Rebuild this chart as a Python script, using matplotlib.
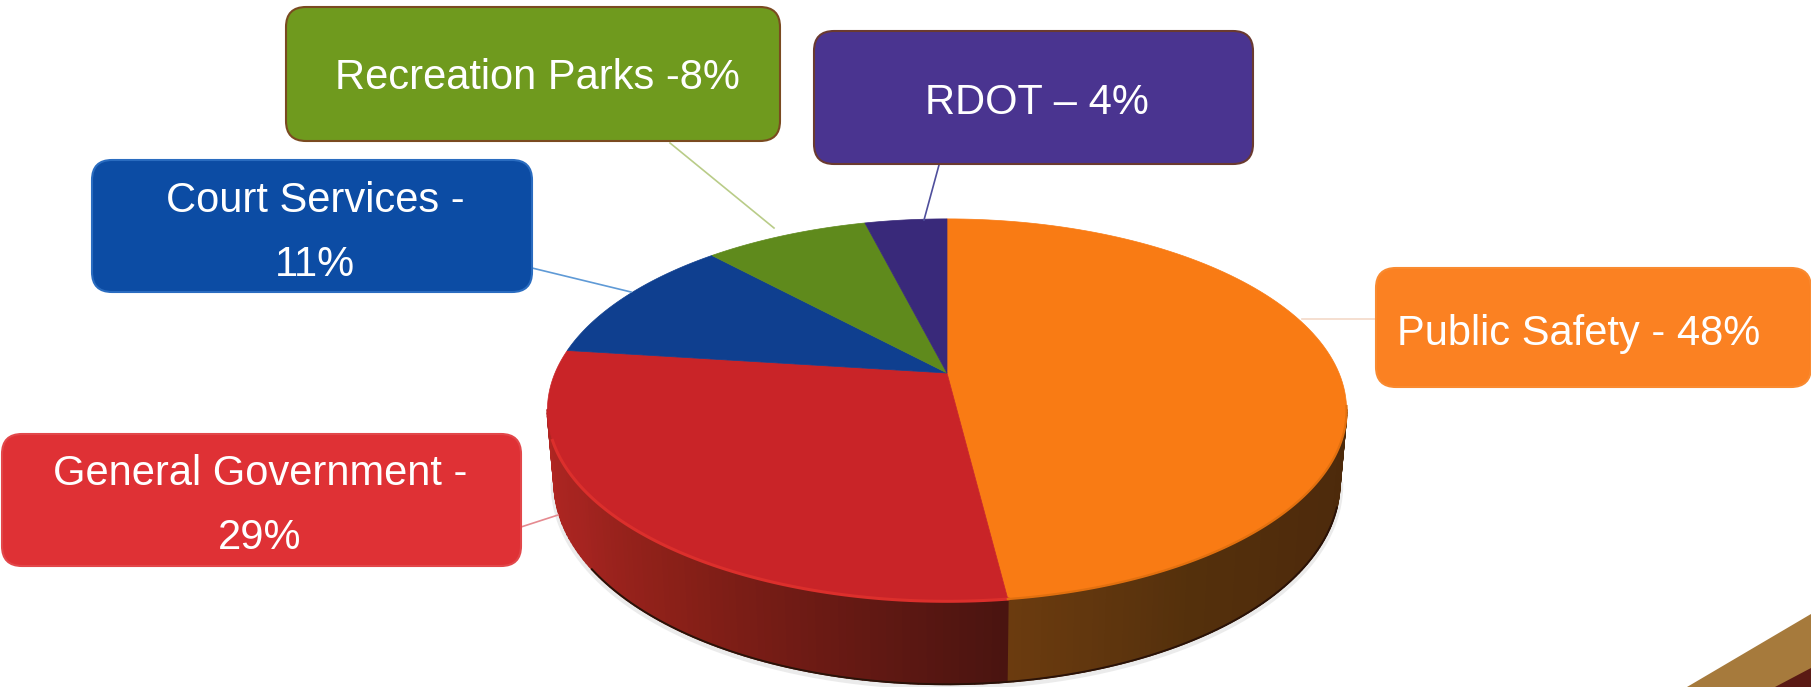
"""
plot.py

3D-look pie of budget share by department, with rounded callout boxes.
"""

import numpy as np
import matplotlib
matplotlib.use("Agg")
import matplotlib.pyplot as plt
from matplotlib.collections import PolyCollection
from matplotlib.colors import to_rgb
from matplotlib.patches import FancyBboxPatch, Polygon

plt.rcParams["font.family"] = ["Liberation Sans", "DejaVu Sans"]

# clockwise from 12 o'clock
departments = ["Public Safety", "General Government", "Court Services",
               "Recreation Parks", "RDOT"]
shares = [48, 29, 11, 8, 4]
labels = ["Public Safety - 48%", "General Government -\n29%", "Court Services -\n11%",
          "Recreation Parks -8%", "RDOT \u2013 4%"]
top_colors = ["#f97b14", "#c92428", "#0f3f8f", "#5f8a1c", "#39297a"]
box_colors = ["#fb8122", "#df3135", "#0c4ca4", "#6f9a1e", "#4a3490"]
box_edges = ["#f98a30", "#e2474a", "#2a6cc0", "#7a4a20", "#6a3a30"]
line_colors = ["#f3d9c8", "#e58a90", "#5f9ad6", "#b9cc88", "#4f4f9c"]

# left, top, right, bottom in pixels
boxes = [(1376, 268, 1811, 387), (2, 434, 521, 566), (92, 160, 532, 292),
         (286, 7, 780, 141), (814, 31, 1253, 164)]
# box end and pie end of each leader line
leaders = [((1376, 319), (1302, 319)), ((521, 527), (558, 515)), ((532, 268), (631, 292)),
           ((670, 143), (774, 228)), ((939, 165), (924, 220))]
text_pos = [(1579, 334), (260, 506), (315, 233), (537, 78), (1037, 103)]

APEX_X, APEX_Y = 947, 373
RADIUS, HEIGHT, TILT = 392, 184, 0.194


def top_point(theta):
    """Perspective view of a point on the rim, theta clockwise from the back."""
    u, v = np.sin(theta), np.cos(theta)
    w = 1 + TILT * v
    return APEX_X + RADIUS * u / w, APEX_Y - HEIGHT * v / w


def bottom_point(theta):
    x, y = top_point(theta)
    return APEX_X + 0.983 * (x - APEX_X), y + 70 - 13 * np.cos(theta)


def shade(stops, t):
    """Blend a list of colours along t in 0..1."""
    rgb = np.array([to_rgb(c) for c in stops])
    pos = np.linspace(0, 1, len(stops))
    return tuple(np.interp(t, pos, rgb[:, i]) for i in range(3))


fig = plt.figure(figsize=(18.11, 6.87), dpi=100)
ax = fig.add_axes([0, 0, 1, 1])
ax.set_xlim(0, 1811)
ax.set_ylim(687, 0)
ax.axis("off")

edges = np.radians(np.cumsum([0] + shares) * 3.6)

# soft shadow under the pie
th = np.radians(np.linspace(101, 259, 200))
bx, by = bottom_point(th)
ax.plot(bx, by + 2, color="#d8d8d8", lw=5, alpha=0.5, zorder=1, solid_capstyle="round")

# side wall, strips so the shading can run around the rim
side_stops = {0: ["#4c2a0b", "#4f2b0c", "#54300c", "#6b3b0f"],
              1: ["#4a1410", "#6a1a14", "#8a2018", "#a52420", "#b02622"]}
side_range = {0: (np.radians(101), edges[1]), 1: (edges[1], np.radians(259))}
for i, (a, b) in side_range.items():
    t = np.linspace(a, b, 90)
    polys, cols = [], []
    for j in range(len(t) - 1):
        x0, y0 = top_point(t[j:j + 2])
        x1, y1 = bottom_point(t[j:j + 2])
        polys.append([(x0[0], y0[0]), (x0[1], y0[1]), (x1[1], y1[1]), (x1[0], y1[0])])
        cols.append(shade(side_stops[i], j / (len(t) - 2)))
    ax.add_collection(PolyCollection(polys, facecolors=cols, edgecolors=cols,
                                     linewidths=1.2, zorder=2))

# dark lower rim line, only where the wall is dark
th = np.radians(np.linspace(108, 235, 200))
bx, by = bottom_point(th)
ax.plot(bx, by, color="#2a1208", lw=1.4, zorder=3)

# top face
for i, col in enumerate(top_colors):
    t = np.linspace(edges[i], edges[i + 1], 120)
    x, y = top_point(t)
    pts = np.column_stack([np.r_[APEX_X, x], np.r_[APEX_Y, y]])
    ax.add_patch(Polygon(pts, closed=True, facecolor=col, edgecolor=col, lw=0.5, zorder=4))

# bevel highlight along the front of the top face
t = np.linspace(edges[1], np.radians(250), 120)
x, y = top_point(t)
ax.plot(x, y, color="#dc2f2c", lw=2.2, zorder=5)
t = np.linspace(np.radians(100), edges[1], 120)
x, y = top_point(t)
ax.plot(x, y, color="#e2700f", lw=1.6, zorder=5)

# leader lines then callouts
for (p0, p1), col in zip(leaders, line_colors):
    ax.plot([p0[0], p1[0]], [p0[1], p1[1]], color=col, lw=1.2, zorder=6)

for (x0, y0, x1, y1), fc, ec in zip(boxes, box_colors, box_edges):
    pad = 20
    ax.add_patch(FancyBboxPatch((x0 + pad, y0 + pad), x1 - x0 - 2 * pad, y1 - y0 - 2 * pad,
                                boxstyle=f"round,pad={pad},rounding_size={pad}",
                                facecolor=fc, edgecolor=ec, lw=1.5, zorder=7))

for txt, (tx, ty) in zip(labels, text_pos):
    ax.text(tx, ty, txt, color="white", fontsize=30, ha="center", va="center",
            linespacing=1.8, zorder=8)

# corner of the next graphic, cropped by the page edge
ax.add_patch(Polygon([(1687, 687), (1811, 614), (1811, 687)], closed=True,
                     facecolor="#a67a3c", edgecolor="none", zorder=2))
ax.add_patch(Polygon([(1775, 687), (1811, 668), (1811, 687)], closed=True,
                     facecolor="#5a1a14", edgecolor="none", zorder=3))

fig.savefig("out.png", dpi=100, facecolor="white")
